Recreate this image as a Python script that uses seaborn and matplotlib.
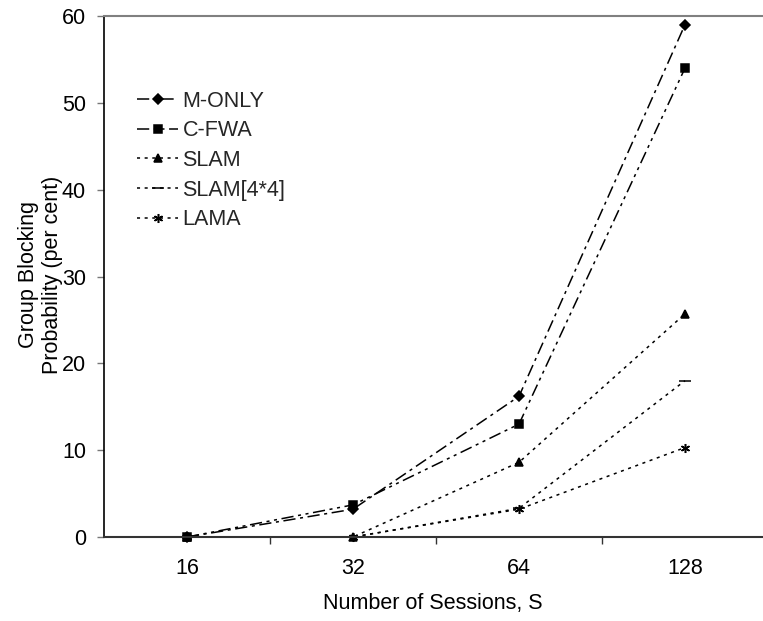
import matplotlib
matplotlib.use("Agg")
import matplotlib.pyplot as plt
import seaborn as sns
import pandas as pd
from matplotlib.ticker import FixedLocator

sessions = ["16", "32", "64", "128"]
m_only = [0.0, 3.2, 16.2, 59.0]
c_fwa = [0.0, 3.7, 13.0, 54.0]
slam = [0.0, 0.0, 8.6, 25.7]
slam44 = [0.0, 0.0, 3.3, 18.0]
lama = [0.0, 0.0, 3.2, 10.3]

series_names = ["M-ONLY", "C-FWA", "SLAM", "SLAM[4*4]", "LAMA"]
series_vals = [m_only, c_fwa, slam, slam44, lama]

sns.set_theme(style="white")
plt.rcParams["font.family"] = ["Liberation Sans", "DejaVu Sans"]
FS = 15.5

fig = plt.figure(figsize=(7.63, 6.21), dpi=100)
W, H = 763, 621
ax = fig.add_axes([104 / W, (H - 537) / H, 664 / W, (537 - 16) / H])

styles = {
    "M-ONLY": dict(marker="D", ms=5, dashes=(8, 3, 2, 3)),
    "C-FWA": dict(marker="s", ms=5.5, dashes=(8, 3, 2, 3, 2, 3)),
    "SLAM": dict(marker="^", ms=6, dashes=(2, 3)),
    "SLAM[4*4]": dict(marker="_", ms=8, dashes=(2, 3)),
    "LAMA": dict(marker=(6, 2, 0), ms=6.5, dashes=(2, 3)),
}

for name, vals in zip(series_names, series_vals):
    df = pd.DataFrame({"S": sessions, "P": vals})
    st = styles[name]
    sns.lineplot(data=df, x="S", y="P", ax=ax, color="black", lw=1.1,
                 marker=st["marker"], markersize=st["ms"], markeredgewidth=1.1,
                 markeredgecolor="black", label=name, sort=False)
    ln = ax.lines[-1]
    ln.set_dashes(st["dashes"])

ax.set_xlim(-0.5, 3.5)
ax.set_ylim(0, 60)
ax.set_yticks([0, 10, 20, 30, 40, 50, 60])
ax.set_xticks(range(4))
ax.set_xticklabels(sessions)
ax.xaxis.set_minor_locator(FixedLocator([0.5, 1.5, 2.5]))
ax.tick_params(axis="x", which="major", length=0, pad=15, labelsize=FS, colors="black")
ax.tick_params(axis="x", which="minor", length=5, width=1, color="#333333", bottom=True)
ax.tick_params(axis="y", length=5, width=1, color="#777777", left=True, pad=8, labelsize=FS)
for lab in ax.get_xticklabels() + ax.get_yticklabels():
    lab.set_color("black")

ax.spines["right"].set_visible(False)
ax.spines["top"].set_color("#808080")
ax.spines["top"].set_linewidth(1.5)
ax.spines["left"].set_color("black")
ax.spines["left"].set_linewidth(1.2)
ax.spines["bottom"].set_color("#333333")
ax.spines["bottom"].set_linewidth(1.5)
for ln in ax.lines:
    ln.set_clip_on(False)

ax.set_xlabel("Number of Sessions, S", fontsize=FS, color="black")
ax.xaxis.label.set_va("center")
ax.xaxis.set_label_coords((433 - 104) / 664, -(603 - 537) / 521)
ax.set_ylabel("Group Blocking\nProbability (per cent)", fontsize=FS, color="black",
              linespacing=1.2)
ax.yaxis.set_label_coords(-0.062, 0.504)

ax.legend(loc="upper left", bbox_to_anchor=(0.037, 0.873), frameon=False,
          fontsize=FS, handlelength=1.9, handletextpad=0.2, labelspacing=0.4,
          borderaxespad=0)

fig.savefig("out.png", dpi=100)
